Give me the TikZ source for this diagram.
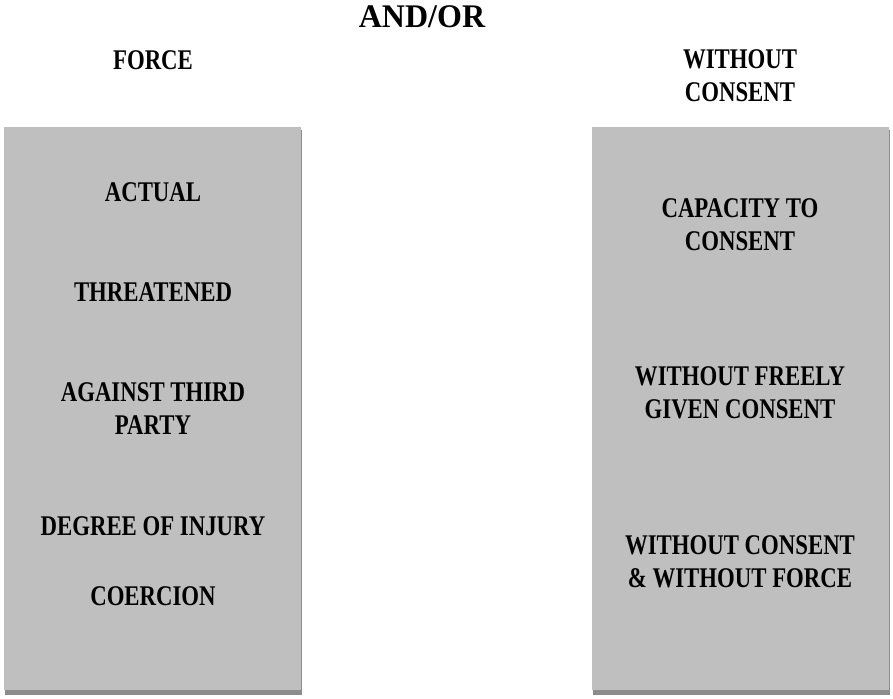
\documentclass[tikz,border=0pt]{standalone}
\usepackage{fontspec}
\setmainfont{Liberation Serif}[FakeStretch=0.8]
\newfontfamily\titlefont{Liberation Serif}[FakeStretch=0.97]
\definecolor{boxgray}{HTML}{BFBFBF}
\definecolor{shadowgray}{HTML}{8C8C8C}
\begin{document}
\begin{tikzpicture}[x=1pt,y=-1pt]
\tikzset{
  lbl/.style={font=\fontsize{28.5}{33}\selectfont\bfseries, align=center, inner sep=0pt, text=black},
  title/.style={font=\titlefont\fontsize{33}{38}\selectfont\bfseries, align=center, inner sep=0pt, text=black},
  panel/.style={fill=boxgray, draw=none}
}
\useasboundingbox[fill=white] (0,0) rectangle (893,698);
% shadows
\fill[shadowgray] (5,130) rectangle (302,695);
\fill[shadowgray] (593,130) rectangle (890,695);
% panels
\node[panel, minimum width=297pt, minimum height=563pt, anchor=north west, inner sep=0pt] (left) at (4,127) {};
\node[panel, minimum width=297pt, minimum height=563pt, anchor=north west, inner sep=0pt] (right) at (592,127) {};
% headings
\node[title] (andor) at (422,17) {AND/OR};
\node[lbl] (force) at (153,60) {FORCE};
\node[lbl] (without) at (740,76) {WITHOUT\\CONSENT};
% left items
\node[lbl] (actual) at (153,192) {ACTUAL};
\node[lbl] (threat) at (153,292) {THREATENED};
\node[lbl] (third) at (153,409) {AGAINST THIRD\\PARTY};
\node[lbl] (injury) at (153,526) {DEGREE OF INJURY};
\node[lbl] (coercion) at (153,596) {COERCION};
% right items
\node[lbl] (capacity) at (740,225) {CAPACITY TO\\CONSENT};
\node[lbl] (freely) at (740,393) {WITHOUT FREELY\\GIVEN CONSENT};
\node[lbl] (noforce) at (740,562) {WITHOUT CONSENT\\\& WITHOUT FORCE};
\end{tikzpicture}
\end{document}
